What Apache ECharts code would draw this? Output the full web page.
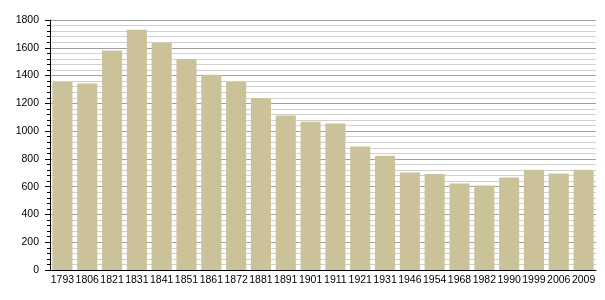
<!DOCTYPE html>
<html><head><meta charset="utf-8">
<script src="https://cdn.jsdelivr.net/npm/echarts@6/dist/echarts.min.js"></script>
<style>html,body{margin:0;padding:0;background:#fff}#c{width:605px;height:300px}</style>
</head><body><div id="c"></div>
<script>
const years = ['1793','1806','1821','1831','1841','1851','1861','1872','1881','1891','1901','1911','1921','1931','1946','1954','1968','1982','1990','1999','2006','2009'];
const population = [1354,1343,1580,1730,1637,1520,1406,1355,1238,1112,1068,1054,889,822,702,692,622,608,666,721,694,721];
const chart = echarts.init(document.getElementById('c'), null, {renderer:'canvas'});
chart.setOption({
  animation:false,
  backgroundColor:'#fff',
  grid:{left:50,right:9,top:20,bottom:30,containLabel:false},
  xAxis:{type:'category',data:years,
    axisLine:{lineStyle:{color:'#000',width:1}},
    axisTick:{show:false},
    axisLabel:{color:'#000',fontFamily:'Liberation Sans',fontSize:10.5,margin:5,interval:0}
  },
  yAxis:{type:'value',min:0,max:1800,interval:200,
    axisLine:{show:true,lineStyle:{color:'#000',width:1}},
    axisTick:{show:true,length:5,inside:false,lineStyle:{color:'#000'}},
    minorTick:{show:true,splitNumber:5,length:3,lineStyle:{color:'#000'}},
    axisLabel:{color:'#000',fontFamily:'Liberation Sans',fontSize:10.5,margin:11,formatter:function(v){return String(v);}},
    splitLine:{show:true,lineStyle:{color:'#a0a0a0',width:1}},
    minorSplitLine:{show:true,lineStyle:{color:'#d0d0d0',width:1}}
  },
  series:[{type:'bar',data:population,barCategoryGap:'19%',
    itemStyle:{color:'#cbc299'}}]
});
</script></body></html>
